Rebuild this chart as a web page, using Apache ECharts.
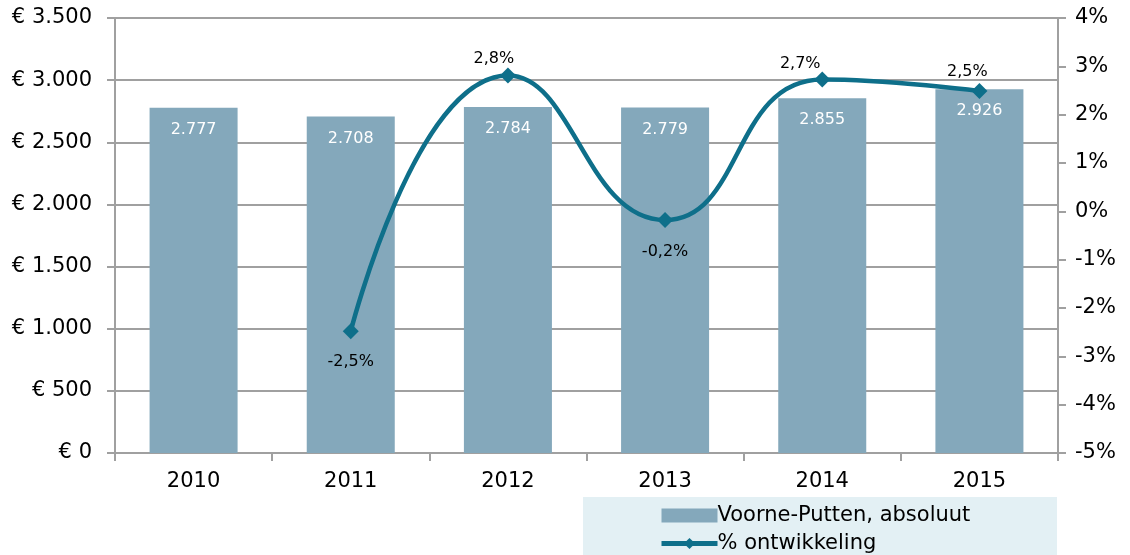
<!DOCTYPE html>
<html><head><meta charset="utf-8">
<script src="https://cdn.jsdelivr.net/npm/echarts@6/dist/echarts.min.js"></script>
<style>html,body{margin:0;padding:0;background:#fff}#c{width:1130px;height:555px}</style>
</head><body><div id="c"></div>
<script>
const categories = ['2010','2011','2012','2013','2014','2015'];
const absValues = [2777, 2708, 2784, 2779, 2855, 2926];
const pctValues = [null, -2.48, 2.81, -0.18, 2.73, 2.49];
const pctLabelPos = ['top','bottom','top','bottom','top','top'];
const pctLabelDist = [2, 15, 1, 16, 0, 3];
const pctLabelOffset = [[0,0],[0,0],[-14,0],[0,0],[-22,0],[-12,0]];

const F = 'DejaVu Sans, Verdana, sans-serif';
const fmtThousand = v => String(v).replace(/\B(?=(\d{3})+(?!\d))/g, '.');
const AX = '#a0a0a0';
const chart = echarts.init(document.getElementById('c'));
chart.setOption({
  animation:false,
  textStyle:{fontFamily:F},
  grid:{left:115, right:72, top:18, bottom:102, containLabel:false},
  graphic:[{type:'rect', shape:{x:583,y:497,width:474,height:60}, style:{fill:'#e3f0f4'}, z:-1}],
  legend:{orient:'vertical', left:659, top:505, padding:0, height:200, itemGap:7, itemWidth:56, itemHeight:14,
    textStyle:{fontFamily:F, fontSize:21, color:'#000', padding:[0,0,0,-5]},
    data:[{name:'Voorne-Putten, absoluut', icon:'rect'},
          {name:'% ontwikkeling', lineStyle:{width:5}}]},
  xAxis:{type:'category', data:categories,
    axisLine:{lineStyle:{color:AX, width:2}},
    axisTick:{show:true, length:8, lineStyle:{color:AX, width:2}},
    axisLabel:{fontFamily:F, fontSize:21, color:'#000', margin:18}},
  yAxis:[{type:'value', min:0, max:3500, interval:500,
    axisLine:{show:true, lineStyle:{color:AX, width:2}},
    axisTick:{show:true, length:8, lineStyle:{color:AX, width:2}},
    splitLine:{lineStyle:{color:AX, width:2}},
    axisLabel:{fontFamily:F, fontSize:21, color:'#000', margin:23, formatter:v=>'€ '+fmtThousand(v)}},
   {type:'value', min:-5, max:4, interval:1, position:'right',
    axisLine:{show:true, lineStyle:{color:AX, width:2}},
    axisTick:{show:true, length:8, lineStyle:{color:AX, width:2}},
    splitLine:{show:false},
    axisLabel:{fontFamily:F, fontSize:21, color:'#000', margin:17, formatter:v=>v+'%'}}],
  series:[
    {name:'Voorne-Putten, absoluut', type:'bar', data:absValues, barWidth:'56%',
     itemStyle:{color:'#84a8bb'},
     label:{show:true, position:'insideTop', distance:14, color:'#fff', fontFamily:F, fontSize:16,
       formatter:p=>fmtThousand(p.value)}},
    {name:'% ontwikkeling', type:'line', yAxisIndex:1, smooth:0.5, connectNulls:false,
     data:pctValues.map((v,i)=>({value:v, label:{position:pctLabelPos[i], distance:pctLabelDist[i], offset:pctLabelOffset[i]}})),
     lineStyle:{color:'#0e6f8a', width:4.5}, itemStyle:{color:'#0e6f8a'},
     symbol:'diamond', symbolSize:16, showAllSymbol:true,
     label:{show:true, color:'#000', fontFamily:F, fontSize:16,
       formatter:p=>p.value==null?'':p.value.toFixed(1).replace('.',',')+'%'}}
  ]
});
</script></body></html>
